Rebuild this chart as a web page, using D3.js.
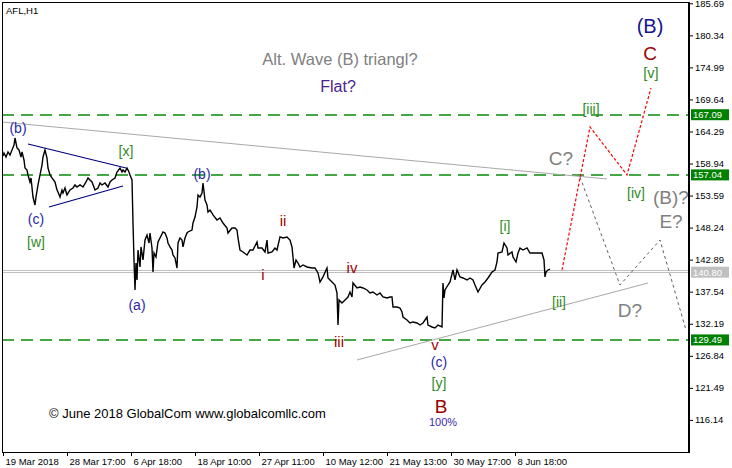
<!DOCTYPE html>
<html>
<head>
<meta charset="utf-8">
<script src="https://cdn.jsdelivr.net/npm/d3@7/dist/d3.min.js"></script>
<style>
  html, body { margin: 0; padding: 0; background: #fff; }
  svg { display: block; }
  text { font-family: "Liberation Sans", Arial, sans-serif; }
</style>
</head>
<body>
<svg id="chart" width="732" height="468"></svg>
<script>
// ---------------- DATA ----------------
const symbol = "AFL,H1";
// bar index (H1 bars from 19 Mar 2018) and close price
const priceSeries = [
[0,160.20],[1,160.70],[3,160.03],[5,160.87],[7,160.36],[9,161.20],[11,162.03],[12,163.20],[14,161.53],[16,161.20],
[18,160.03],[19,160.87],[21,159.53],[22,158.19],[24,157.86],[25,157.03],[27,155.86],[28,156.53],[30,153.35],[32,152.02],
[33,153.35],[35,155.36],[37,157.03],[39,158.69],[40,160.03],[42,161.20],[44,159.86],[45,158.19],[47,157.03],[49,156.53],
[52,155.86],[54,154.52],[55,154.19],[57,153.35],[59,154.52],[60,154.02],[62,154.86],[64,153.69],[67,154.52],[70,154.86],
[72,155.36],[74,155.02],[77,155.36],[80,155.02],[83,155.86],[85,156.53],[87,156.19],[89,155.86],[92,154.52],[95,154.86],
[97,155.69],[99,155.36],[102,155.69],[105,155.02],[107,155.86],[109,156.19],[112,156.53],[114,157.53],[117,158.19],[119,157.53],
[120,157.86],[122,157.53],[124,158.19],[126,157.53],[127,157.03],[129,156.19],[130,149.01],[131,142.84],[132,137.83],[133,142.33],
[134,139.50],[135,144.50],[137,141.67],[138,145.01],[140,142.84],[142,146.17],[144,147.01],[146,145.67],[147,147.34],[149,144.84],
[150,140.83],[151,144.00],[153,143.34],[155,145.84],[157,146.51],[160,147.51],[162,147.34],[164,146.51],[165,145.67],[167,145.01],
[169,144.50],[170,143.67],[172,143.17],[174,141.50],[175,145.67],[177,146.51],[179,146.17],[180,145.01],[182,146.51],[184,147.34],
[185,147.51],[189,147.84],[190,149.01],[192,150.01],[194,151.68],[195,153.69],[197,153.35],[199,154.02],[200,155.69],[202,152.85],
[204,152.02],[205,150.85],[207,151.18],[209,150.68],[210,150.35],[214,149.51],[217,149.85],[220,149.01],[224,148.18],[225,147.34],
[229,148.18],[232,148.18],[234,147.84],[235,146.51],[237,144.50],[240,144.17],[244,143.67],[247,144.50],[250,144.50],[254,145.84],
[255,144.84],[259,144.84],[262,144.17],[264,146.17],[265,144.00],[269,144.17],[272,144.84],[274,144.50],[277,146.68],[280,146.51],
[284,146.68],[287,146.17],[289,145.01],[290,143.34],[291,141.50],[293,142.84],[295,142.33],[297,141.67],[300,142.00],[304,141.67],
[309,141.50],[312,141.50],[315,140.67],[317,139.16],[320,140.00],[323,141.17],[324,141.50],[325,139.83],[329,139.16],[332,138.66],
[334,137.33],[335,131.98],[336,136.16],[339,135.66],[342,136.16],[345,136.66],[347,137.49],[349,136.66],[350,139.00],[354,138.16],
[357,138.33],[360,138.16],[364,137.83],[367,137.33],[370,137.49],[374,136.99],[377,137.33],[380,136.66],[384,136.49],[387,136.66],
[389,136.66],[390,134.99],[394,134.99],[397,134.82],[399,134.15],[400,133.32],[404,132.82],[407,132.32],[410,132.49],[414,132.32],
[417,131.98],[420,132.32],[424,133.32],[425,131.98],[429,131.65],[432,131.48],[435,131.98],[439,131.65],[440,139.00],[441,136.49],
[442,137.83],[445,138.66],[447,139.16],[450,141.17],[452,139.50],[454,141.17],[457,140.00],[460,139.83],[464,139.50],[467,139.83],
[470,139.50],[472,138.66],[475,137.49],[479,138.66],[482,139.16],[485,139.83],[489,140.83],[492,141.17],[494,142.50],[495,144.00],
[499,144.17],[501,145.67],[504,144.84],[505,143.67],[509,144.17],[510,143.34],[513,142.50],[515,144.00],[517,144.84],[520,144.50],
[524,144.84],[527,144.00],[530,144.00],[534,144.00],[539,144.00],[541,142.84],[542,140.00],[543,140.83],[545,141.17],[547,141.33]
];

const priceTicks = [185.69,180.34,174.99,169.64,164.29,158.94,153.59,148.24,142.89,137.54,132.19,126.84,121.49,116.14];
const timeTickBars = [0,64,128,192,256,320,384,448,512];
const timeTickLabels = ["19 Mar 2018","28 Mar 17:00","6 Apr 18:00","18 Apr 10:00","27 Apr 11:00","10 May 12:00","21 May 13:00","30 May 17:00","8 Jun 18:00"];

const levelLines = [167.09, 157.04, 129.49];
const bidAskLines = [140.80, 141.20];
const bidPrice = 140.80;

const upperTrend = [[-1,165.87],[604,156.36]];
const lowerTrend = [[354,126.14],[645,138.99]];
const triangleUpper = [[25,162.20],[123,158.19]];
const triangleLower = [[46,151.68],[120,155.19]];
const projectionMain = [[559,141.17],[587,165.04],[624,157.03],[648,171.55]];
const projectionAlt = [[577,156.69],[617,138.66],[657,146.17],[683,131.15]];

// [text, bar, price, group]
const waveLabels = [
["(b)",15,164.04,"minor"],["[x]",123,160.20,"minute"],["(c)",33,148.85,"minor"],["[w]",33,145.01,"minute"],
["(a)",134,134.49,"minor"],["(b)",199,156.36,"minor"],["ii",280,148.51,"sub"],["i",260,139.50,"sub"],
["iv",349,140.67,"sub"],["iii",336,128.31,"sub"],["v",432,127.81,"sub"],["(c)",436,124.97,"minor"],
["[y]",436,121.47,"minute"],["B",438,117.29,"major"],["100%",440,115.12,"pct"],
["[i]",502,147.68,"minute"],["[ii]",556,134.99,"minute"],["[iii]",588,167.21,"minute"],["[iv]",633,153.19,"minute"],
["C?",558,158.69,"alt"],["(B)?",668,152.18,"alt"],["E?",668,148.18,"alt"],["D?",627,133.32,"alt"],
["(B)",647,180.73,"top"],["C",647,176.26,"major2"],["[v]",648,173.29,"minute2"],
["Alt. Wave (B) triangl?",337,175.39,"note"],["Flat?",335,170.88,"flat"]
];
const copyright = ["© June 2018 GlobalCom www.globalcomllc.com", 46, 116.46];

// ---------------- STYLES ----------------
const labelStyle = {
  minor:  {size:14, color:"#2828a8"},
  minute: {size:14, color:"#2f8c1c"},
  minute2:{size:14.5, color:"#2f8c1c"},
  sub:    {size:15, color:"#a00000"},
  major:  {size:19, color:"#990000"},
  major2: {size:19, color:"#a00000"},
  top:    {size:20, color:"#14148c"},
  pct:    {size:11, color:"#3c28b4"},
  alt:    {size:19, color:"#808080"},
  note:   {size:16.5, color:"#808080"},
  flat:   {size:16, color:"#4b1f8f"}
};

// ---------------- CHART ----------------
const svg = d3.select("#chart");
const plotLeft = 2, plotTop = 2, plotRight = 689, plotBottom = 452;

const x = d3.scaleLinear().domain([0, 685]).range([3, 688]);
const y = d3.scaleLinear().domain([110.78, 186.24]).range([452, 0]);

svg.append("rect").attr("width", 732).attr("height", 468).attr("fill", "#fff");

const clip = svg.append("defs").append("clipPath").attr("id", "plotclip");
clip.append("rect").attr("x", plotLeft).attr("y", plotTop)
  .attr("width", plotRight - plotLeft).attr("height", plotBottom - plotTop);

const plot = svg.append("g").attr("clip-path", "url(#plotclip)");
const line = d3.line().x(d => x(d[0])).y(d => y(d[1]));

// level dashed lines
plot.selectAll(".lvl").data(levelLines).enter().append("line")
  .attr("x1", plotLeft).attr("x2", plotRight)
  .attr("y1", d => Math.round(y(d))).attr("y2", d => Math.round(y(d)))
  .attr("stroke", "#0a8a0a").attr("stroke-width", 1.5)
  .attr("stroke-dasharray", "12,7");

// bid/ask lines
plot.selectAll(".bid").data(bidAskLines).enter().append("line")
  .attr("x1", plotLeft).attr("x2", plotRight)
  .attr("y1", d => Math.round(y(d)) + 0.5).attr("y2", d => Math.round(y(d)) + 0.5)
  .attr("stroke", "#c0c0c0").attr("stroke-width", 1).attr("shape-rendering", "crispEdges");

// trend lines
[upperTrend, lowerTrend].forEach(t => plot.append("path").attr("d", line(t))
  .attr("fill", "none").attr("stroke", "#a8a8a8").attr("stroke-width", 1));
[triangleUpper, triangleLower].forEach(t => plot.append("path").attr("d", line(t))
  .attr("fill", "none").attr("stroke", "#000080").attr("stroke-width", 1.2));

// projections
plot.append("path").attr("d", line(projectionAlt)).attr("fill", "none")
  .attr("stroke", "#606060").attr("stroke-width", 1).attr("stroke-dasharray", "3,3");
plot.append("path").attr("d", line(projectionMain)).attr("fill", "none")
  .attr("stroke", "#ff0000").attr("stroke-width", 1.2).attr("stroke-dasharray", "3,2");

// price line
plot.append("path").attr("d", line(priceSeries)).attr("fill", "none")
  .attr("stroke", "#000").attr("stroke-width", 1.4).attr("stroke-linejoin", "miter");

// labels
plot.selectAll(".wl").data(waveLabels).enter().append("text")
  .attr("x", d => x(d[1])).attr("y", d => y(d[2]))
  .attr("text-anchor", "middle")
  .attr("font-size", d => labelStyle[d[3]].size)
  .attr("fill", d => labelStyle[d[3]].color)
  .text(d => d[0]);

plot.append("text").attr("x", x(copyright[1])).attr("y", y(copyright[2]))
  .attr("font-size", 13).attr("fill", "#000").text(copyright[0]);

svg.append("text").attr("x", 6).attr("y", 14).attr("font-size", 9.5).attr("fill", "#000").text(symbol);

// frame
svg.append("line").attr("x1", plotLeft + 0.5).attr("x2", plotLeft + 0.5).attr("y1", plotTop).attr("y2", plotBottom)
  .attr("stroke", "#000");
svg.append("line").attr("x1", plotLeft).attr("x2", plotRight).attr("y1", plotTop + 0.5).attr("y2", plotTop + 0.5)
  .attr("stroke", "#000");
svg.append("line").attr("x1", plotLeft).attr("x2", plotRight).attr("y1", plotBottom + 0.5).attr("y2", plotBottom + 0.5)
  .attr("stroke", "#000");
svg.append("line").attr("x1", plotRight).attr("x2", plotRight).attr("y1", plotTop).attr("y2", plotBottom + 1)
  .attr("stroke", "#000").attr("stroke-width", 2);

// right axis
const yAxis = d3.axisRight(y).tickValues(priceTicks).tickSize(3).tickPadding(2).tickFormat(d3.format(".2f"));
const ya = svg.append("g").attr("transform", `translate(${plotRight + 1},0)`).call(yAxis);
ya.select(".domain").remove();
ya.selectAll("text").attr("font-size", 9.5).attr("font-family", "Liberation Sans, Arial, sans-serif").attr("fill", "#000");
ya.selectAll("line").attr("stroke", "#000");

// bottom axis
const xAxis = d3.axisBottom(x).tickValues(timeTickBars).tickSize(4).tickPadding(2)
  .tickFormat((d, i) => timeTickLabels[i]);
const xa = svg.append("g").attr("transform", `translate(0,${plotBottom})`).call(xAxis);
xa.select(".domain").remove();
xa.selectAll("text").attr("text-anchor", "start").attr("dx", 2).attr("font-size", 9.5)
  .attr("font-family", "Liberation Sans, Arial, sans-serif").attr("fill", "#000");
xa.selectAll("line").attr("stroke", "#000");

// axis price tags
const tags = levelLines.map(v => ({v, fill: "#008000"})).concat([{v: bidPrice, fill: "#c0c0c0"}]);
const tg = svg.selectAll(".tag").data(tags).enter().append("g");
tg.append("rect").attr("x", plotRight + 2).attr("y", d => y(d.v) - 5.5).attr("width", 38).attr("height", 11)
  .attr("fill", d => d.fill);
tg.append("text").attr("x", plotRight + 4).attr("y", d => y(d.v) + 3.5).attr("font-size", 9.5)
  .attr("fill", "#fff").text(d => d.v.toFixed(2));
</script>
</body>
</html>
